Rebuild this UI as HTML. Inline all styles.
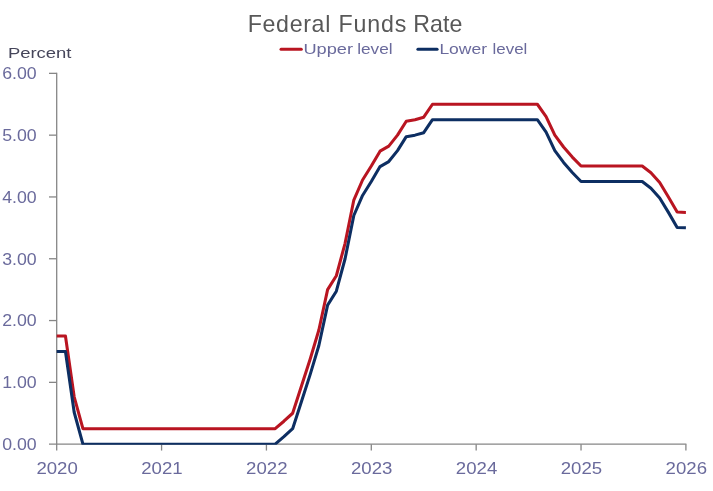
<!DOCTYPE html>
<html><head><meta charset="utf-8"><title>Federal Funds Rate</title>
<style>html,body{margin:0;padding:0;background:#fff}svg{display:block}text{font-family:"Liberation Sans",sans-serif}</style></head><body>
<svg width="713" height="491" viewBox="0 0 713 491">
<rect width="713" height="491" fill="#ffffff"/>
<g stroke="#868686" stroke-width="1.3" fill="none" shape-rendering="auto">
<line x1="56.7" y1="72.85" x2="56.7" y2="450.54999999999995"/>
<line x1="49.0" y1="444.15" x2="686.4" y2="444.15"/>
<line x1="49.0" y1="382.35" x2="56.7" y2="382.35"/>
<line x1="49.0" y1="320.55" x2="56.7" y2="320.55"/>
<line x1="49.0" y1="258.75" x2="56.7" y2="258.75"/>
<line x1="49.0" y1="196.95" x2="56.7" y2="196.95"/>
<line x1="49.0" y1="135.15" x2="56.7" y2="135.15"/>
<line x1="49.0" y1="73.35" x2="56.7" y2="73.35"/>
<line x1="161.57" y1="444.15" x2="161.57" y2="450.54999999999995"/>
<line x1="266.43" y1="444.15" x2="266.43" y2="450.54999999999995"/>
<line x1="371.30" y1="444.15" x2="371.30" y2="450.54999999999995"/>
<line x1="476.17" y1="444.15" x2="476.17" y2="450.54999999999995"/>
<line x1="581.03" y1="444.15" x2="581.03" y2="450.54999999999995"/>
<line x1="685.90" y1="444.15" x2="685.90" y2="450.54999999999995"/>
</g>
<clipPath id="c"><rect x="0" y="0" width="713" height="444.7"/></clipPath>
<g fill="none" stroke-width="3.05" stroke-linejoin="round" stroke-linecap="butt" clip-path="url(#c)">
<polyline stroke="#b91521" points="56.70,336.00 65.44,336.00 74.18,396.80 82.92,428.70 91.66,428.70 100.39,428.70 109.13,428.70 117.87,428.70 126.61,428.70 135.35,428.70 144.09,428.70 152.83,428.70 161.57,428.70 170.31,428.70 179.04,428.70 187.78,428.70 196.52,428.70 205.26,428.70 214.00,428.70 222.74,428.70 231.48,428.70 240.22,428.70 248.96,428.70 257.69,428.70 266.43,428.70 275.17,428.70 283.91,421.22 292.65,413.25 301.39,386.34 310.13,359.18 318.87,330.02 327.61,289.65 336.34,275.75 345.08,243.30 353.82,200.04 362.56,180.00 371.30,166.05 380.04,151.15 388.78,146.11 397.52,135.15 406.26,121.20 414.99,119.70 423.73,117.21 432.47,104.25 441.21,104.25 449.95,104.25 458.69,104.25 467.43,104.25 476.17,104.25 484.91,104.25 493.64,104.25 502.38,104.25 511.12,104.25 519.86,104.25 528.60,104.25 537.34,104.25 546.08,116.61 554.82,135.15 563.56,147.00 572.29,157.08 581.03,166.05 589.77,166.05 598.51,166.05 607.25,166.05 615.99,166.05 624.73,166.05 633.47,166.05 642.21,166.05 650.94,172.75 659.68,182.50 668.42,196.95 677.16,212.09 685.90,212.40"/>
<polyline stroke="#0d2e62" points="56.70,351.45 65.44,351.45 74.18,412.25 82.92,444.15 91.66,444.15 100.39,444.15 109.13,444.15 117.87,444.15 126.61,444.15 135.35,444.15 144.09,444.15 152.83,444.15 161.57,444.15 170.31,444.15 179.04,444.15 187.78,444.15 196.52,444.15 205.26,444.15 214.00,444.15 222.74,444.15 231.48,444.15 240.22,444.15 248.96,444.15 257.69,444.15 266.43,444.15 275.17,444.15 283.91,436.67 292.65,428.70 301.39,401.79 310.13,374.62 318.87,345.47 327.61,305.10 336.34,291.19 345.08,258.75 353.82,215.49 362.56,195.45 371.30,181.50 380.04,166.60 388.78,161.56 397.52,150.60 406.26,136.65 414.99,135.15 423.73,132.66 432.47,119.70 441.21,119.70 449.95,119.70 458.69,119.70 467.43,119.70 476.17,119.70 484.91,119.70 493.64,119.70 502.38,119.70 511.12,119.70 519.86,119.70 528.60,119.70 537.34,119.70 546.08,132.06 554.82,150.60 563.56,162.44 572.29,172.53 581.03,181.50 589.77,181.50 598.51,181.50 607.25,181.50 615.99,181.50 624.73,181.50 633.47,181.50 642.21,181.50 650.94,188.20 659.68,197.95 668.42,212.40 677.16,227.54 685.90,227.85"/>
</g>
<text x="2.2" y="450.05" font-size="16.5" fill="#6a6a9c" textLength="34.5" lengthAdjust="spacingAndGlyphs">0.00</text>
<text x="2.2" y="388.25" font-size="16.5" fill="#6a6a9c" textLength="34.5" lengthAdjust="spacingAndGlyphs">1.00</text>
<text x="2.2" y="326.45" font-size="16.5" fill="#6a6a9c" textLength="34.5" lengthAdjust="spacingAndGlyphs">2.00</text>
<text x="2.2" y="264.65" font-size="16.5" fill="#6a6a9c" textLength="34.5" lengthAdjust="spacingAndGlyphs">3.00</text>
<text x="2.2" y="202.85" font-size="16.5" fill="#6a6a9c" textLength="34.5" lengthAdjust="spacingAndGlyphs">4.00</text>
<text x="2.2" y="141.05" font-size="16.5" fill="#6a6a9c" textLength="34.5" lengthAdjust="spacingAndGlyphs">5.00</text>
<text x="2.2" y="79.25" font-size="16.5" fill="#6a6a9c" textLength="34.5" lengthAdjust="spacingAndGlyphs">6.00</text>
<text x="36.40" y="474.2" font-size="16.5" fill="#6a6a9c" textLength="41.4" lengthAdjust="spacingAndGlyphs">2020</text>
<text x="141.27" y="474.2" font-size="16.5" fill="#6a6a9c" textLength="41.4" lengthAdjust="spacingAndGlyphs">2021</text>
<text x="246.13" y="474.2" font-size="16.5" fill="#6a6a9c" textLength="41.4" lengthAdjust="spacingAndGlyphs">2022</text>
<text x="351.00" y="474.2" font-size="16.5" fill="#6a6a9c" textLength="41.4" lengthAdjust="spacingAndGlyphs">2023</text>
<text x="455.87" y="474.2" font-size="16.5" fill="#6a6a9c" textLength="41.4" lengthAdjust="spacingAndGlyphs">2024</text>
<text x="560.73" y="474.2" font-size="16.5" fill="#6a6a9c" textLength="41.4" lengthAdjust="spacingAndGlyphs">2025</text>
<text x="665.60" y="474.2" font-size="16.5" fill="#6a6a9c" textLength="41.4" lengthAdjust="spacingAndGlyphs">2026</text>
<text x="7.9" y="58" font-size="15.5" fill="#45455a" textLength="63.6" lengthAdjust="spacingAndGlyphs">Percent</text>
<text font-size="23.2" fill="#585858" y="31.6"><tspan x="247.7" textLength="82.6" lengthAdjust="spacing">Federal</tspan> <tspan x="338.5" textLength="67.8" lengthAdjust="spacing">Funds</tspan> <tspan x="413.3" textLength="49.0" lengthAdjust="spacingAndGlyphs">Rate</tspan></text>
<line x1="281" y1="49.3" x2="301.3" y2="49.3" stroke="#b91521" stroke-width="3" stroke-linecap="round"/>
<text y="54.2" font-size="15.5" fill="#6a6a9c"><tspan x="303.4" textLength="49.6" lengthAdjust="spacingAndGlyphs">Upper</tspan> <tspan x="357.2" textLength="35.4" lengthAdjust="spacingAndGlyphs">level</tspan></text>
<line x1="417.9" y1="49.3" x2="437.1" y2="49.3" stroke="#0d2e62" stroke-width="3" stroke-linecap="round"/>
<text y="54.2" font-size="15.5" fill="#6a6a9c"><tspan x="439.4" textLength="47.6" lengthAdjust="spacingAndGlyphs">Lower</tspan> <tspan x="492.6" textLength="34.8" lengthAdjust="spacingAndGlyphs">level</tspan></text>
</svg></body></html>
